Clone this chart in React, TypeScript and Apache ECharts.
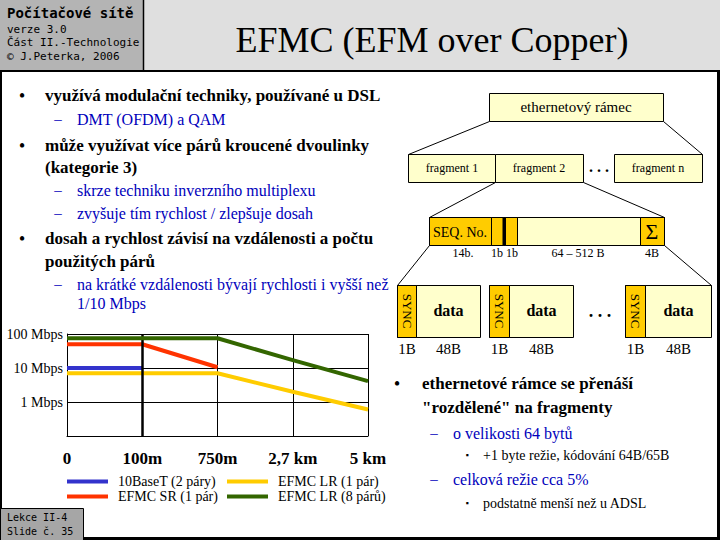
import React, { useEffect, useRef } from 'react';
import * as echarts from 'echarts';

// ---- chart data ----
const distances = ['0', '100m', '750m', '2,7 km', '5 km'];
const seriesNames = ['10BaseT (2 páry)', 'EFMC SR (1 pár)', 'EFMC LR (1 pár)', 'EFMC LR (8 párů)'];
const base10T = [10, 10, null, null, null];
const efmcSR = [50, 50, 10.5, null, null];
const efmcLR1 = [7, 7, 7, 2, 0.6];
const efmcLR8 = [75, 75, 75, 17, 4.1];
const seriesColors = ['#3333cc', '#ff3300', '#ffcc00', '#336600'];

// ---- slide texts ----
const headerLines = ['verze 3.0', 'Část II.-Technologie', '© J.Peterka, 2006'];
const footerLines = ['Lekce II-4', 'Slide č. 35'];
const slideTitle = 'EFMC (EFM over Copper)';

const SERIF = 'Liberation Serif';
const MONO = 'DejaVu Sans Mono';
const BLUE = '#0000bb';
const LIGHT = '#ffffcc';
const ORANGE = '#ffcc00';

function T(text: string, x: number, y: number, o: any = {}) {
  const size = o.size || 15;
  const fam = o.family || SERIF;
  const weight = o.bold ? 'bold' : 'normal';
  return {
    type: 'text',
    x,
    y,
    rotation: o.rotation || 0,
    z: 10,
    style: {
      text,
      fill: o.color || '#000',
      font: `${weight} ${size}px ${fam}`,
      fontSize: size,
      fontFamily: fam,
      fontWeight: weight,
      align: o.align || 'left',
      verticalAlign: 'middle',
      textAlign: o.align || 'left',
      textVerticalAlign: 'middle',
    },
  };
}
function R(x: number, y: number, w: number, h: number, fill: string, stroke?: string) {
  return {
    type: 'rect',
    z: 5,
    shape: { x, y, width: w, height: h },
    style: { fill, stroke: stroke || null, lineWidth: stroke ? 1 : 0 },
  };
}
function L(x1: number, y1: number, x2: number, y2: number, w = 1) {
  return {
    type: 'line',
    z: 6,
    shape: { x1, y1, x2, y2 },
    style: { stroke: '#000', lineWidth: w },
  };
}

function buildGraphics() {
  const g: any[] = [];
  // header
  g.push(R(0, 0, 143, 71, '#b4b4b4'));
  g.push(R(143, 0, 577, 71, '#dfdfdf'));
  g.push(L(143.5, 0, 143.5, 71, 1.5));
  g.push(R(0, 70, 720, 2, '#000'));
  g.push(T('Počítačové sítě', 7, 13, { family: MONO, size: 14, bold: true }));
  headerLines.forEach((t, i) => g.push(T(t, 7, 29 + i * 13.5, { family: MONO, size: 11 })));
  g.push(T(slideTitle, 432, 40, { size: 36, align: 'center' }));
  // borders
  g.push(R(0, 71, 2, 469, '#000'));
  g.push(R(717, 71, 3, 469, '#000'));
  g.push(R(0, 537, 720, 3, '#000'));
  g.push(R(0.5, 508.5, 83, 32, '#a6a6a6', '#000'));
  footerLines.forEach((t, i) => g.push(T(t, 7, 517 + i * 14.5, { family: MONO, size: 10 })));

  // left bullets
  const bold = (t: string, y: number, dot: boolean) => {
    if (dot) g.push(T('•', 22, y, { size: 16, bold: true, align: 'center' }));
    g.push(T(t, 45, y, { size: 17, bold: true }));
  };
  const sub = (t: string, y: number, dash: boolean) => {
    if (dash) g.push(T('–', 58, y, { size: 15, color: BLUE, align: 'center' }));
    g.push(T(t, 77, y, { size: 16, color: BLUE }));
  };
  bold('využívá modulační techniky, používané u DSL', 95, true);
  sub('DMT (OFDM) a QAM', 119, true);
  bold('může využívat více párů kroucené dvoulinky', 145, true);
  bold('(kategorie 3)', 167, false);
  sub('skrze techniku inverzního multiplexu', 190, true);
  sub('zvyšuje tím rychlost / zlepšuje dosah', 213, true);
  bold('dosah a rychlost závisí na vzdálenosti a počtu', 238, true);
  bold('použitých párů', 261, false);
  sub('na krátké vzdálenosti bývají rychlosti i vyšší než', 284, true);
  sub('1/10 Mbps', 303, false);

  // right bullets
  g.push(T('•', 397, 383, { size: 16, bold: true, align: 'center' }));
  g.push(T('ethernetové rámce se přenáší', 422, 383, { size: 17, bold: true }));
  g.push(T('"rozdělené" na fragmenty', 422, 407, { size: 17, bold: true }));
  g.push(T('–', 434, 433, { size: 15, color: BLUE, align: 'center' }));
  g.push(T('o velikosti 64 bytů', 453, 433, { size: 16, color: BLUE }));
  g.push(T('▪', 467, 455, { size: 9, align: 'center' }));
  g.push(T('+1 byte režie, kódování 64B/65B', 483, 455, { size: 14 }));
  g.push(T('–', 434, 479, { size: 15, color: BLUE, align: 'center' }));
  g.push(T('celková režie cca 5%', 453, 479, { size: 16, color: BLUE }));
  g.push(T('▪', 467, 503, { size: 9, align: 'center' }));
  g.push(T('podstatně menší než u ADSL', 483, 503, { size: 14 }));

  // diagram: ethernet frame
  g.push(R(489.5, 93.5, 174, 28, LIGHT, '#000'));
  g.push(T('ethernetový rámec', 576, 107, { size: 15, align: 'center' }));
  g.push(L(489.5, 121.5, 408.5, 154.5));
  g.push(L(663.5, 121.5, 702.5, 154.5));
  // fragments
  g.push(R(408.5, 154.5, 87, 28, LIGHT, '#000'));
  g.push(R(495.5, 154.5, 88, 28, LIGHT, '#000'));
  g.push(R(614.5, 154.5, 88, 28, LIGHT, '#000'));
  g.push(T('fragment 1', 452, 168, { size: 12, align: 'center' }));
  g.push(T('fragment 2', 539, 168, { size: 12, align: 'center' }));
  g.push(T('fragment n', 658, 168, { size: 12, align: 'center' }));
  g.push(T('. . .', 599, 166, { size: 16, bold: true, align: 'center' }));
  g.push(L(495.5, 182.5, 429.5, 217.5));
  g.push(L(583.5, 182.5, 664.5, 217.5));
  // fragment structure
  g.push(R(429.5, 217.5, 235, 28, LIGHT, '#000'));
  g.push(R(429.5, 217.5, 62, 28, ORANGE, '#000'));
  g.push(R(491.5, 217.5, 12, 28, ORANGE, '#000'));
  g.push(R(505.5, 217.5, 12, 28, ORANGE, '#000'));
  g.push(R(502.5, 217.5, 3, 28, '#000'));
  g.push(R(640.5, 217.5, 24, 28, ORANGE, '#000'));
  g.push(T('SEQ. No.', 460, 232, { size: 14, align: 'center' }));
  g.push(T('Σ', 652, 231, { size: 22, align: 'center' }));
  g.push(T('14b.', 463, 253, { size: 12, align: 'center' }));
  g.push(T('1b', 497, 253, { size: 12, align: 'center' }));
  g.push(T('1b', 512, 253, { size: 12, align: 'center' }));
  g.push(T('64 – 512 B', 578, 253, { size: 12, align: 'center' }));
  g.push(T('4B', 652, 253, { size: 12, align: 'center' }));
  g.push(L(429.5, 245.5, 397.5, 285.5));
  g.push(L(664.5, 245.5, 711.5, 285.5));
  // cells
  const cells = [
    [397.5, 19, 83],
    [489.5, 20, 84],
    [625.5, 20, 86],
  ];
  cells.forEach(([x, sw, w]) => {
    g.push(R(x, 285.5, w, 52, LIGHT, '#000'));
    g.push(R(x, 285.5, sw, 52, ORANGE, '#000'));
    g.push(T('SYNC', x + sw / 2, 311, { size: 13, align: 'center', rotation: -Math.PI / 2 }));
    g.push(T('data', x + sw + (w - sw) / 2, 310, { size: 16, bold: true, align: 'center' }));
    g.push(T('1B', x + sw / 2, 349, { size: 15, align: 'center' }));
    g.push(T('48B', x + sw + (w - sw) / 2, 349, { size: 15, align: 'center' }));
  });
  g.push(T('. . .', 600, 311, { size: 18, bold: true, align: 'center' }));
  return g;
}

export default function App() {
  const ref = useRef<HTMLDivElement>(null);
  useEffect(() => {
    if (!ref.current) return;
    const chart = echarts.init(ref.current, null, { renderer: 'svg' });
    const legendBase = {
      orient: 'vertical',
      top: 474,
      padding: 0,
      itemGap: 0,
      itemWidth: 41,
      itemHeight: 4,
      icon: 'rect',
      selectedMode: false,
      textStyle: { fontFamily: SERIF, fontSize: 14, color: '#000', lineHeight: 15, padding: [0, 0, 0, 5] },
    };
    const seriesData = [base10T, efmcSR, efmcLR1, efmcLR8];
    chart.setOption({
      animation: false,
      backgroundColor: '#fff',
      grid: { left: 67, top: 334, width: 301, height: 102, containLabel: false },
      legend: [
        { ...legendBase, left: 67, data: [seriesNames[0], seriesNames[1]] },
        { ...legendBase, left: 227, data: [seriesNames[2], seriesNames[3]] },
      ],
      xAxis: {
        type: 'category',
        boundaryGap: false,
        data: distances,
        axisLine: { lineStyle: { color: '#000', width: 1 } },
        axisTick: { show: false },
        splitLine: { show: true, lineStyle: { color: '#000', width: 1 } },
        axisLabel: { fontFamily: SERIF, fontSize: 17, fontWeight: 'bold', color: '#000', margin: 14 },
      },
      yAxis: {
        type: 'log',
        logBase: 10,
        min: 0.1,
        max: 100,
        axisLine: { show: true, lineStyle: { color: '#000', width: 1 } },
        axisTick: { show: false },
        splitLine: { show: true, lineStyle: { color: '#000', width: 1 } },
        axisLabel: {
          fontFamily: SERIF,
          fontSize: 14,
          color: '#000',
          margin: 4,
          formatter: (v: number) => (v >= 1 ? `${Math.round(v)} Mbps` : ''),
        },
      },
      series: seriesData.map((d, i) => ({
        name: seriesNames[i],
        type: 'line',
        data: d,
        color: seriesColors[i],
        showSymbol: false,
        symbol: 'none',
        connectNulls: false,
        lineStyle: { color: seriesColors[i], width: 4 },
        z: 2 + i,
        markLine:
          i === 3
            ? {
                silent: true,
                symbol: ['none', 'none'],
                label: { show: false },
                lineStyle: { color: '#000', width: 2.5, type: 'solid' },
                data: [{ xAxis: '100m' }],
              }
            : undefined,
      })),
      graphic: { elements: buildGraphics() },
    });
    return () => chart.dispose();
  }, []);
  return (
    <div
      ref={ref}
      style={{ position: 'fixed', left: 0, top: 0, width: 720, height: 540, background: '#fff' }}
    />
  );
}
